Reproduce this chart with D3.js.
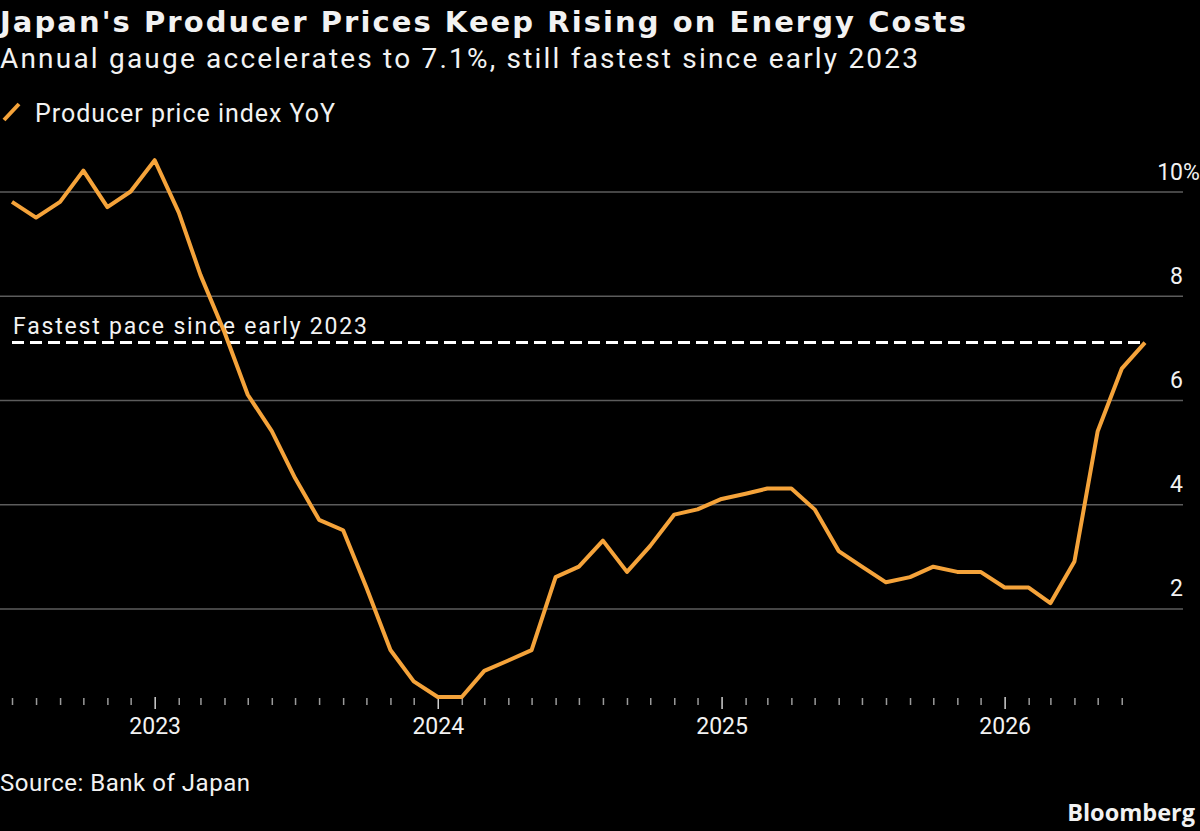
<!DOCTYPE html>
<html>
<head>
<meta charset="utf-8">
<script src="https://cdn.jsdelivr.net/npm/d3@7"></script>
<style>
  body { margin: 0; background: #000; }
  svg { display: block; }
  text { font-family: Roboto, "Noto Sans", sans-serif; fill: #f2f2f2; }
  text.bold { font-family: "DejaVu Sans", "Open Sans", sans-serif; font-weight: 700; }
  text.logo { font-family: "Open Sans", "Noto Sans", sans-serif; font-weight: 700; }
</style>
</head>
<body>
<svg id="chart" width="1200" height="831"></svg>
<script>
// monthly PPI yoy, Jul 2022 .. Jul 2026
const months = [
  "2022-07","2022-08","2022-09","2022-10","2022-11","2022-12",
  "2023-01","2023-02","2023-03","2023-04","2023-05","2023-06",
  "2023-07","2023-08","2023-09","2023-10","2023-11","2023-12",
  "2024-01","2024-02","2024-03","2024-04","2024-05","2024-06",
  "2024-07","2024-08","2024-09","2024-10","2024-11","2024-12",
  "2025-01","2025-02","2025-03","2025-04","2025-05","2025-06",
  "2025-07","2025-08","2025-09","2025-10","2025-11","2025-12",
  "2026-01","2026-02","2026-03","2026-04","2026-05","2026-06",
  "2026-07"
];
const ppiYoy = [
  9.8, 9.5, 9.8, 10.4, 9.7, 10.0,
  10.6, 9.6, 8.4, 7.3, 6.1, 5.4,
  4.5, 3.7, 3.5, 2.4, 1.2, 0.6,
  0.3, 0.3, 0.8, 1.0, 1.2, 2.6,
  2.8, 3.3, 2.7, 3.2, 3.8, 3.9,
  4.1, 4.2, 4.3, 4.3, 3.9, 3.1,
  2.8, 2.5, 2.6, 2.8, 2.7, 2.7,
  2.4, 2.4, 2.1, 2.9, 5.4, 6.6,
  7.1
];
const yTicks = [2, 4, 6, 8, 10];
const refValue = 7.1;
const refLabel = "Fastest pace since early 2023";

const parse = d3.timeParse("%Y-%m");
const data = months.map((m, i) => ({ date: parse(m), value: ppiYoy[i] }));

const svg = d3.select("#chart");
svg.append("rect").attr("width", 1200).attr("height", 831).attr("fill", "#000");

const x = d3.scaleTime()
    .domain(d3.extent(data, d => d.date))
    .range([12, 1145]);
const y = d3.scaleLinear()
    .domain([0, 10])
    .range([712.6, 191.5]);

// titles
svg.append("text").attr("class", "bold").attr("x", 0).attr("y", 32)
    .attr("font-size", 29)
    .attr("textLength", 966).attr("lengthAdjust", "spacing")
    .text("Japan's Producer Prices Keep Rising on Energy Costs");
svg.append("text").attr("x", 0).attr("y", 68)
    .attr("font-size", 28)
    .attr("textLength", 918).attr("lengthAdjust", "spacing")
    .text("Annual gauge accelerates to 7.1%, still fastest since early 2023");

// legend
svg.append("line")
    .attr("x1", 4).attr("y1", 120).attr("x2", 19).attr("y2", 104)
    .attr("stroke", "#f5a33a").attr("stroke-width", 4);
svg.append("text").attr("x", 35).attr("y", 122)
    .attr("font-size", 25)
    .attr("textLength", 300).attr("lengthAdjust", "spacing")
    .text("Producer price index YoY");

// gridlines + right labels
const grid = svg.append("g")
    .call(d3.axisRight(y).tickValues(yTicks).tickSize(1183).tickFormat(""));
grid.select(".domain").remove();
grid.selectAll(".tick line").attr("stroke", "#5c5c5c").attr("stroke-width", 1.5);

const yLab = svg.append("g");
yTicks.forEach(t => {
  yLab.append("text")
      .attr("x", 1183).attr("y", y(t) - 12)
      .attr("text-anchor", "end").attr("font-size", 23)
      .text(t);
  if (t === 10) {
    yLab.append("text")
        .attr("x", 1183).attr("y", y(t) - 12)
        .attr("font-size", 23)
        .text("%");
  }
});

// x axis: month ticks, long ticks + label on January
const tickDates = data.slice(0, -1).map(d => d.date);
const xAxis = svg.append("g")
    .attr("transform", "translate(0,697)")
    .call(d3.axisBottom(x).tickValues(tickDates).tickSize(0).tickFormat(""));
xAxis.select(".domain").remove();
xAxis.selectAll(".tick").each(function(d) {
  const g = d3.select(this);
  const major = d.getMonth() === 0;
  g.append("line")
      .attr("y1", major ? 0 : 1).attr("y2", major ? 12 : 8)
      .attr("stroke", major ? "#d0d0d0" : "#9a9a9a").attr("stroke-width", 1.5);
  if (major) {
    g.append("text")
        .attr("y", 37).attr("text-anchor", "middle")
        .attr("font-size", 23)
        .text(d3.timeFormat("%Y")(d));
  }
});

// reference dashed line
svg.append("line")
    .attr("x1", x(data[0].date)).attr("x2", x(data[data.length - 1].date))
    .attr("y1", y(refValue)).attr("y2", y(refValue))
    .attr("stroke", "#fff").attr("stroke-width", 3)
    .attr("stroke-dasharray", "12,6");
svg.append("text")
    .attr("x", 13).attr("y", y(refValue) - 9)
    .attr("font-size", 23)
    .attr("textLength", 354).attr("lengthAdjust", "spacing")
    .text(refLabel);

// the series
svg.append("path")
    .datum(data)
    .attr("fill", "none")
    .attr("stroke", "#f5a33a")
    .attr("stroke-width", 4)
    .attr("stroke-linejoin", "round")
    .attr("d", d3.line().x(d => x(d.date)).y(d => y(d.value)));

// footer
svg.append("text").attr("x", 0).attr("y", 791)
    .attr("font-size", 24)
    .attr("textLength", 250).attr("lengthAdjust", "spacing")
    .text("Source: Bank of Japan");
svg.append("text").attr("class", "logo").attr("x", 1195).attr("y", 821)
    .attr("text-anchor", "end")
    .attr("font-size", 23.5)
    .text("Bloomberg");
</script>
</body>
</html>
